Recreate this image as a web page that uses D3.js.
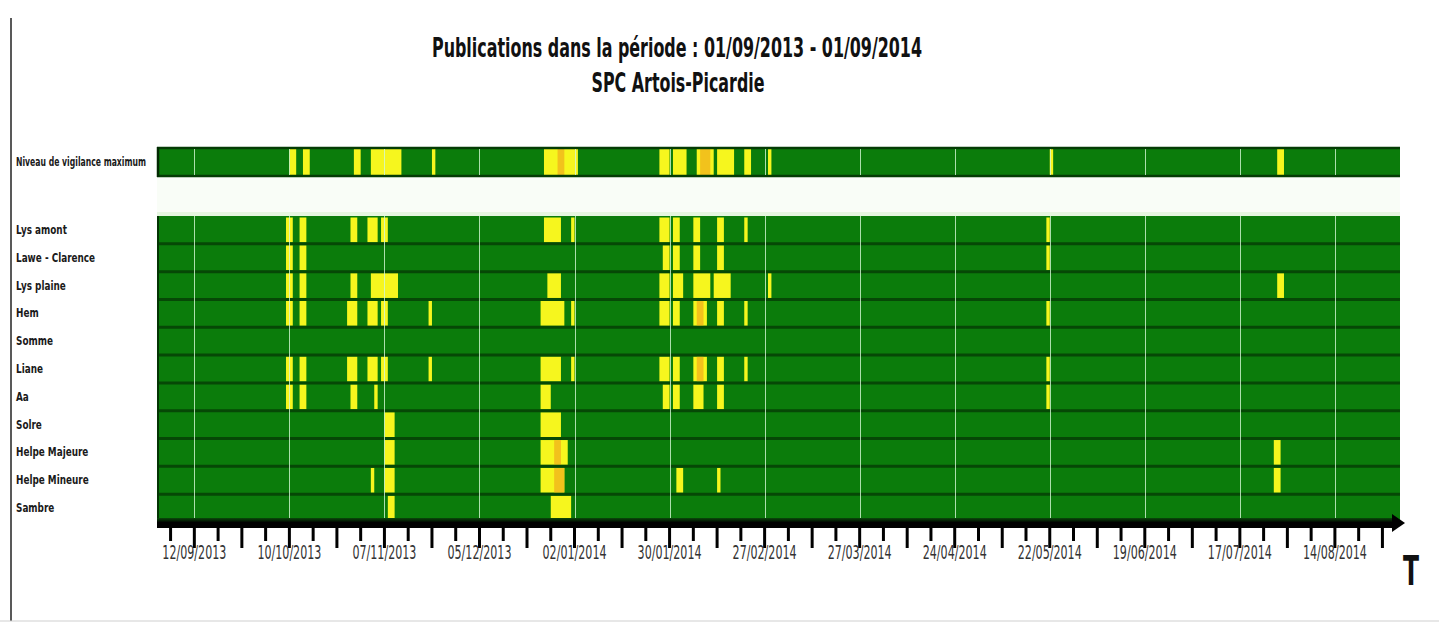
<!DOCTYPE html>
<html>
<head>
<meta charset="utf-8">
<script src="https://cdnjs.cloudflare.com/ajax/libs/d3/7.8.5/d3.min.js"></script>
<style>
  body { margin: 0; background: #fff; }
  svg text { font-family: "Liberation Sans Narrow", "Arial Narrow", "DejaVu Sans Condensed", sans-serif; }
  .titre { font-weight: bold; font-size: 27px; fill: #111; }
  .riviere { font-size: 12px; font-weight: bold; fill: #1a1a1a; }
  .date { font-size: 19px; fill: #333; }
  .grille { stroke: #d4f8d4; stroke-width: 1; stroke-opacity: 0.8; }
</style>
</head>
<body>
<div id="chart"></div>
<script>
// periode couverte
const periodeDebut = '2013-09-01';
const periodeFin = '2014-09-01';

const rivieres = ['Lys amont', 'Lawe - Clarence', 'Lys plaine', 'Hem', 'Somme', 'Liane', 'Aa',
                  'Solre', 'Helpe Majeure', 'Helpe Mineure', 'Sambre'];

const datesAxe = ['12/09/2013', '10/10/2013', '07/11/2013', '05/12/2013', '02/01/2014', '30/01/2014',
                  '27/02/2014', '27/03/2014', '24/04/2014', '22/05/2014', '19/06/2014', '17/07/2014', '14/08/2014'];

// [debut, fin, vigilance]
const niveauMax = [
  ['2013-10-10', '2013-10-12', 'jaune'], ['2013-10-14', '2013-10-16', 'jaune'],
  ['2013-10-29', '2013-10-31', 'jaune'], ['2013-11-03', '2013-11-12', 'jaune'],
  ['2013-11-21', '2013-11-22', 'jaune'], ['2013-12-24', '2014-01-03', 'jaune'],
  ['2013-12-28', '2013-12-30', 'orange'],
  ['2014-01-27', '2014-01-30', 'jaune'], ['2014-01-31', '2014-02-04', 'jaune'],
  ['2014-02-07', '2014-02-12', 'jaune'], ['2014-02-08', '2014-02-11', 'orange'],
  ['2014-02-13', '2014-02-18', 'jaune'], ['2014-02-21', '2014-02-23', 'jaune'],
  ['2014-02-28', '2014-03-01', 'jaune'], ['2014-05-22', '2014-05-23', 'jaune'],
  ['2014-07-28', '2014-07-30', 'jaune']
];

const lysAmont = [
  ['2013-10-09', '2013-10-11', 'jaune'], ['2013-10-13', '2013-10-15', 'jaune'],
  ['2013-10-28', '2013-10-30', 'jaune'], ['2013-11-02', '2013-11-05', 'jaune'],
  ['2013-11-06', '2013-11-08', 'jaune'], ['2013-12-24', '2013-12-29', 'jaune'],
  ['2014-01-01', '2014-01-02', 'jaune'], ['2014-01-27', '2014-01-30', 'jaune'],
  ['2014-01-31', '2014-02-02', 'jaune'], ['2014-02-06', '2014-02-08', 'jaune'],
  ['2014-02-13', '2014-02-15', 'jaune'], ['2014-02-21', '2014-02-22', 'jaune'],
  ['2014-05-21', '2014-05-22', 'jaune']
];
const laweClarence = [
  ['2013-10-09', '2013-10-11', 'jaune'], ['2013-10-13', '2013-10-15', 'jaune'],
  ['2014-01-28', '2014-01-30', 'jaune'], ['2014-01-31', '2014-02-02', 'jaune'],
  ['2014-02-06', '2014-02-08', 'jaune'], ['2014-02-13', '2014-02-15', 'jaune'],
  ['2014-05-21', '2014-05-22', 'jaune']
];
const lysPlaine = [
  ['2013-10-09', '2013-10-11', 'jaune'], ['2013-10-13', '2013-10-15', 'jaune'],
  ['2013-10-28', '2013-10-30', 'jaune'], ['2013-11-03', '2013-11-11', 'jaune'],
  ['2013-12-25', '2013-12-29', 'jaune'], ['2014-01-27', '2014-01-30', 'jaune'],
  ['2014-01-31', '2014-02-03', 'jaune'], ['2014-02-06', '2014-02-11', 'jaune'],
  ['2014-02-12', '2014-02-17', 'jaune'], ['2014-02-28', '2014-03-01', 'jaune'],
  ['2014-07-28', '2014-07-30', 'jaune']
];
const hem = [
  ['2013-10-09', '2013-10-11', 'jaune'], ['2013-10-13', '2013-10-15', 'jaune'],
  ['2013-10-27', '2013-10-30', 'jaune'], ['2013-11-02', '2013-11-05', 'jaune'],
  ['2013-11-06', '2013-11-08', 'jaune'], ['2013-11-20', '2013-11-21', 'jaune'],
  ['2013-12-23', '2013-12-30', 'jaune'], ['2014-01-01', '2014-01-02', 'jaune'],
  ['2014-01-27', '2014-01-30', 'jaune'], ['2014-01-31', '2014-02-02', 'jaune'],
  ['2014-02-06', '2014-02-10', 'jaune'], ['2014-02-07', '2014-02-09', 'orange'],
  ['2014-02-13', '2014-02-15', 'jaune'], ['2014-02-21', '2014-02-22', 'jaune'],
  ['2014-05-21', '2014-05-22', 'jaune']
];
const somme = [];
const liane = [
  ['2013-10-09', '2013-10-11', 'jaune'], ['2013-10-13', '2013-10-15', 'jaune'],
  ['2013-10-27', '2013-10-30', 'jaune'], ['2013-11-02', '2013-11-05', 'jaune'],
  ['2013-11-06', '2013-11-08', 'jaune'], ['2013-11-20', '2013-11-21', 'jaune'],
  ['2013-12-23', '2013-12-29', 'jaune'], ['2014-01-01', '2014-01-02', 'jaune'],
  ['2014-01-27', '2014-01-30', 'jaune'], ['2014-01-31', '2014-02-02', 'jaune'],
  ['2014-02-06', '2014-02-10', 'jaune'], ['2014-02-07', '2014-02-09', 'orange'],
  ['2014-02-13', '2014-02-15', 'jaune'], ['2014-02-21', '2014-02-22', 'jaune'],
  ['2014-05-21', '2014-05-22', 'jaune']
];
const aa = [
  ['2013-10-09', '2013-10-11', 'jaune'], ['2013-10-13', '2013-10-15', 'jaune'],
  ['2013-10-28', '2013-10-30', 'jaune'], ['2013-11-04', '2013-11-05', 'jaune'],
  ['2013-12-23', '2013-12-26', 'jaune'], ['2014-01-28', '2014-01-30', 'jaune'],
  ['2014-01-31', '2014-02-02', 'jaune'], ['2014-02-06', '2014-02-09', 'jaune'],
  ['2014-02-13', '2014-02-15', 'jaune'], ['2014-05-21', '2014-05-22', 'jaune']
];
const solre = [
  ['2013-11-07', '2013-11-10', 'jaune'], ['2013-12-23', '2013-12-29', 'jaune']
];
const helpeMajeure = [
  ['2013-11-07', '2013-11-10', 'jaune'], ['2013-12-23', '2013-12-31', 'jaune'],
  ['2013-12-27', '2013-12-29', 'orange'], ['2014-07-27', '2014-07-29', 'jaune']
];
const helpeMineure = [
  ['2013-11-03', '2013-11-04', 'jaune'], ['2013-11-07', '2013-11-10', 'jaune'],
  ['2013-12-23', '2013-12-30', 'jaune'], ['2013-12-27', '2013-12-30', 'orange'],
  ['2014-02-01', '2014-02-03', 'jaune'], ['2014-02-13', '2014-02-14', 'jaune'],
  ['2014-07-27', '2014-07-29', 'jaune']
];
const sambre = [
  ['2013-11-08', '2013-11-10', 'jaune'], ['2013-12-26', '2014-01-01', 'jaune']
];

const periodes = [lysAmont, laweClarence, lysPlaine, hem, somme, liane, aa,
                  solre, helpeMajeure, helpeMineure, sambre];

const couleurs = { jaune: '#f6f61e', orange: '#f2c21c' };
const vert = '#0b7c0b';
const vertFonce = '#064806';

const width = 1439;
const height = 623;

const parseIso = d3.timeParse('%Y-%m-%d');
const parseFr = d3.timeParse('%d/%m/%Y');

const svg = d3.select('#chart').append('svg')
    .attr('width', width)
    .attr('height', height);

const x = d3.scaleTime()
    .domain([parseIso(periodeDebut), parseIso(periodeFin)])
    .range([157, 1396]);

const y = d3.scaleBand()
    .domain(rivieres)
    .range([216, 522]);

const bande = { top: 147, bottom: 177 };
const xG = x.range()[0], xD = x.range()[1] + 4;

// cadre de l'image
svg.append('line').attr('x1', 11).attr('x2', 11).attr('y1', 18).attr('y2', 621)
    .attr('stroke', '#222').attr('stroke-width', 1.5);
svg.append('line').attr('x1', 0).attr('x2', width).attr('y1', 621).attr('y2', 621)
    .attr('stroke', '#cfcfcf').attr('stroke-width', 1);

// titres
svg.append('text').attr('class', 'titre')
    .attr('x', 677).attr('y', 57).attr('text-anchor', 'middle')
    .attr('textLength', 490).attr('lengthAdjust', 'spacingAndGlyphs')
    .text('Publications dans la période : 01/09/2013 - 01/09/2014');
svg.append('text').attr('class', 'titre')
    .attr('x', 678).attr('y', 92).attr('text-anchor', 'middle')
    .attr('textLength', 173).attr('lengthAdjust', 'spacingAndGlyphs')
    .text('SPC Artois-Picardie');

// halo clair entre les deux blocs
svg.append('rect')
    .attr('x', xG).attr('y', bande.bottom).attr('width', xD - xG).attr('height', y.range()[0] - bande.bottom)
    .attr('fill', '#f9fdf7');
svg.append('rect')
    .attr('x', xG).attr('y', y.range()[0] - 4).attr('width', xD - xG).attr('height', 4)
    .attr('fill', '#e6f6e0');

// ---- bande niveau de vigilance maximum
svg.append('rect')
    .attr('x', xG).attr('y', bande.top).attr('width', xD - xG).attr('height', bande.bottom - bande.top)
    .attr('fill', vert);

svg.append('g').selectAll('rect')
    .data(niveauMax)
    .join('rect')
      .attr('x', d => x(parseIso(d[0])))
      .attr('width', d => x(parseIso(d[1])) - x(parseIso(d[0])))
      .attr('y', bande.top).attr('height', bande.bottom - bande.top)
      .attr('fill', d => couleurs[d[2]]);

svg.append('text').attr('class', 'riviere')
    .attr('x', 16).attr('y', 166)
    .attr('textLength', 130).attr('lengthAdjust', 'spacingAndGlyphs')
    .text('Niveau de vigilance maximum');

// ---- bloc par cours d'eau
svg.append('g').selectAll('rect')
    .data(rivieres)
    .join('rect')
      .attr('x', xG).attr('width', xD - xG)
      .attr('y', d => y(d)).attr('height', y.bandwidth())
      .attr('fill', vert);

const lignes = svg.append('g').selectAll('g')
    .data(rivieres.map((r, i) => ({ nom: r, periodes: periodes[i] })))
    .join('g');

lignes.selectAll('rect')
    .data(d => d.periodes.map(p => ({ nom: d.nom, p })))
    .join('rect')
      .attr('x', d => x(parseIso(d.p[0])))
      .attr('width', d => x(parseIso(d.p[1])) - x(parseIso(d.p[0])))
      .attr('y', d => y(d.nom) + 1.5)
      .attr('height', y.bandwidth() - 3)
      .attr('fill', d => couleurs[d.p[2]]);

// separateurs sombres entre les lignes
svg.append('g').selectAll('line')
    .data(rivieres.slice(1))
    .join('line')
      .attr('x1', xG).attr('x2', xD)
      .attr('y1', d => y(d)).attr('y2', d => y(d))
      .attr('stroke', vertFonce).attr('stroke-width', 3);

// bordures de la bande du haut
[bande.top + 1, bande.bottom - 1].forEach(v => {
  svg.append('line').attr('x1', xG).attr('x2', xD).attr('y1', v).attr('y2', v)
      .attr('stroke', '#043c04').attr('stroke-width', 2.5);
});
svg.append('line').attr('x1', xG + 1).attr('x2', xG + 1).attr('y1', bande.top).attr('y2', bande.bottom)
    .attr('stroke', '#022a02').attr('stroke-width', 2.5);
svg.append('line').attr('x1', xG + 1).attr('x2', xG + 1).attr('y1', y.range()[0]).attr('y2', y.range()[1])
    .attr('stroke', '#033503').attr('stroke-width', 2);

// grille verticale
const datesGrille = datesAxe.map(parseFr);
[[bande.top + 2, bande.bottom - 2], [y.range()[0], y.range()[1]]].forEach(([a, b]) => {
  svg.append('g').selectAll('line')
      .data(datesGrille)
      .join('line')
        .attr('class', 'grille')
        .attr('x1', d => Math.round(x(d)) + 0.5).attr('x2', d => Math.round(x(d)) + 0.5)
        .attr('y1', a).attr('y2', b);
});

// noms des cours d'eau, compresses comme dans l'original
svg.append('g').selectAll('text')
    .data(rivieres)
    .join('text')
      .attr('class', 'riviere')
      .attr('x', 16)
      .attr('y', d => y(d) + y.bandwidth() / 2 + 4)
      .text(d => d)
      .each(function() {
        const l = this.getComputedTextLength();
        d3.select(this).attr('textLength', l * 0.82).attr('lengthAdjust', 'spacingAndGlyphs');
      });

// ---- axe du temps
const grad = svg.append('defs').append('linearGradient')
    .attr('id', 'axe').attr('x1', 0).attr('x2', 0).attr('y1', 0).attr('y2', 1);
grad.append('stop').attr('offset', '0%').attr('stop-color', '#0a4a0a');
grad.append('stop').attr('offset', '45%').attr('stop-color', '#000');
grad.append('stop').attr('offset', '100%').attr('stop-color', '#000');

svg.append('rect')
    .attr('x', xG).attr('y', 518).attr('width', xD - xG - 6).attr('height', 10)
    .attr('fill', 'url(#axe)');
svg.append('path')
    .attr('d', `M${xD - 8},514 L${xD + 5},523 L${xD - 8},532 Z`)
    .attr('fill', '#000');

const ticks = d3.timeDay.range(parseFr('05/09/2013'), parseFr('01/09/2014'), 7);
const ref = parseFr('12/09/2013');
svg.append('g').selectAll('line')
    .data(ticks)
    .join('line')
      .attr('x1', d => x(d)).attr('x2', d => x(d))
      .attr('y1', 526)
      .attr('y2', d => Math.round(d3.timeDay.count(ref, d)) % 14 === 0 ? 548 : 541)
      .attr('stroke', '#000').attr('stroke-width', 3);

svg.append('g').selectAll('text')
    .data(datesAxe)
    .join('text')
      .attr('class', 'date')
      .attr('x', d => x(parseFr(d)))
      .attr('y', 559)
      .attr('text-anchor', 'middle')
      .attr('textLength', 64).attr('lengthAdjust', 'spacingAndGlyphs')
      .text(d => d);

svg.append('text')
    .attr('x', 1411).attr('y', 585)
    .attr('text-anchor', 'middle')
    .attr('font-weight', 'bold').attr('font-size', 40).attr('fill', '#111')
    .attr('textLength', 16).attr('lengthAdjust', 'spacingAndGlyphs')
    .text('T');
</script>
</body>
</html>
